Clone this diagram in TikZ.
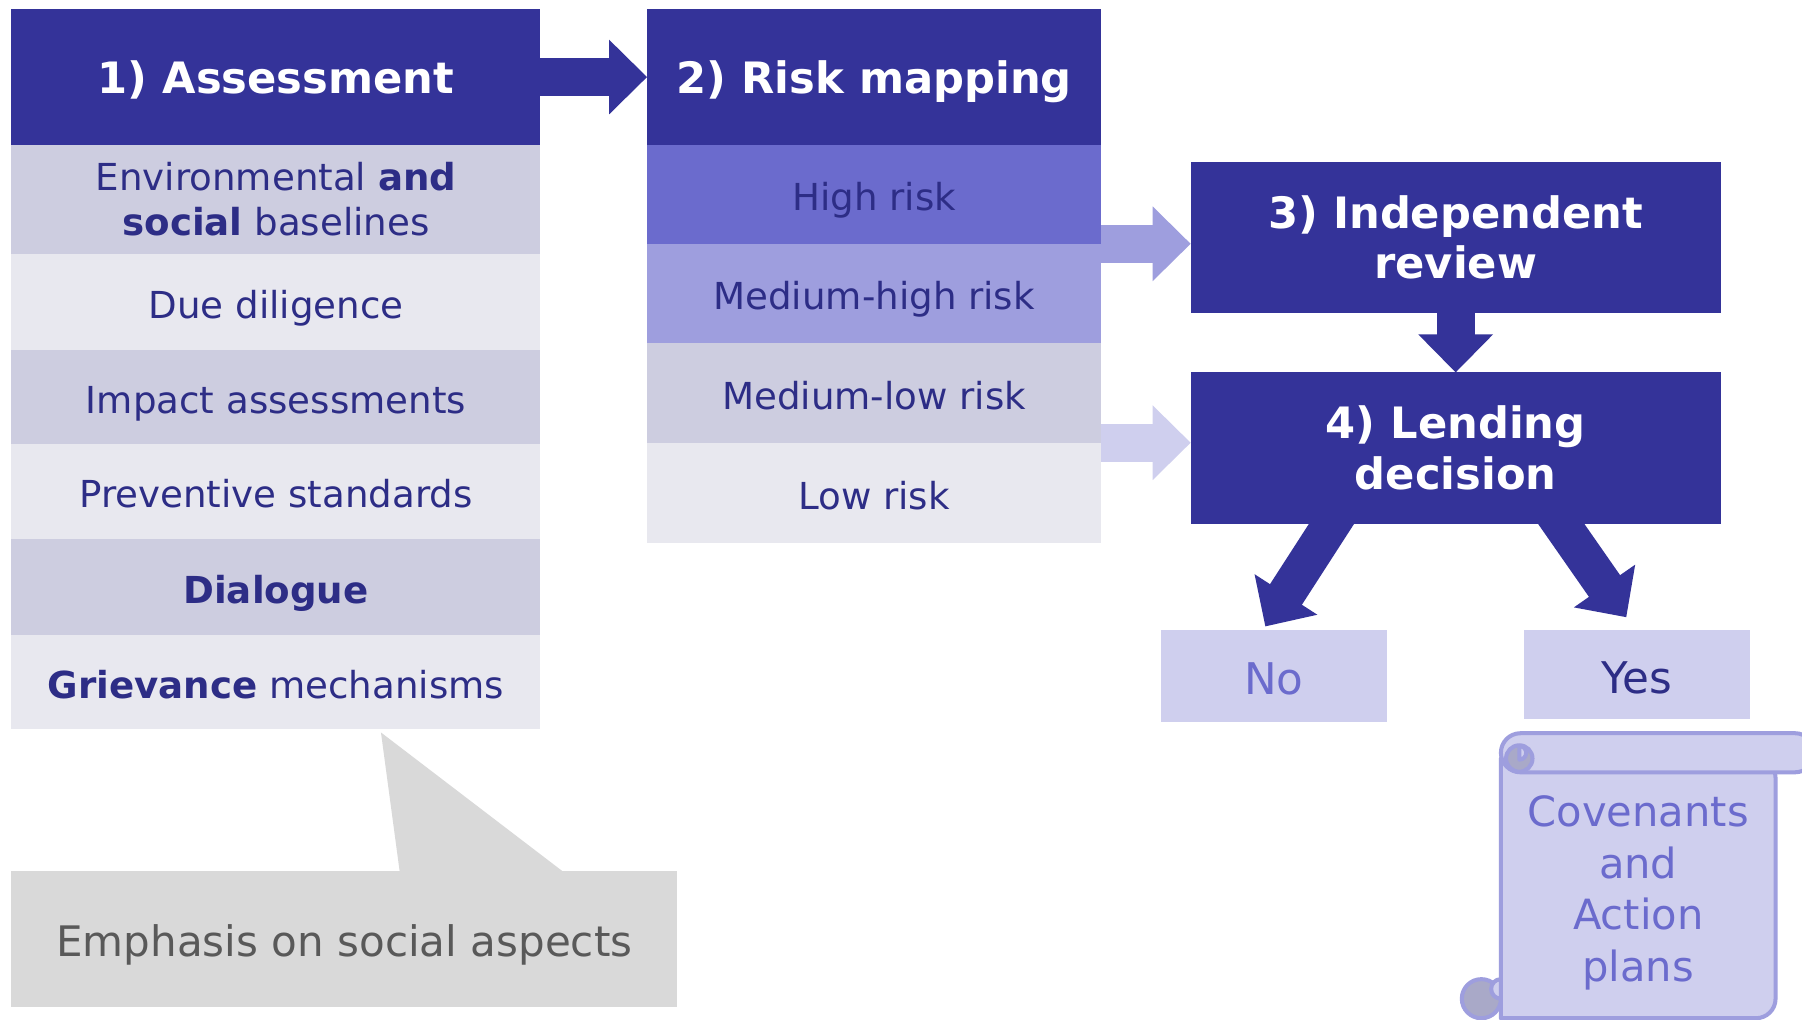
\documentclass[tikz,border=0pt]{standalone}
\usepackage{fontspec}
\setmainfont{DejaVu Sans}
\usetikzlibrary{calc}

\definecolor{deep}{HTML}{343399}
\definecolor{ink}{HTML}{2D2D86}
\definecolor{bandA}{HTML}{CDCDE0}
\definecolor{bandB}{HTML}{E8E8EF}
\definecolor{riskhi}{HTML}{6B6BCD}
\definecolor{riskmh}{HTML}{9E9EDE}
\definecolor{pale}{HTML}{CFCFEE}
\definecolor{curl}{HTML}{A9A9C8}
\definecolor{notegrey}{HTML}{D9D9D9}
\definecolor{notetext}{HTML}{595959}

% block arrow: shaft 3.3mm wide, head 6.5mm wide and 3.3mm long, tip at #2
\newcommand{\blockarrow}[3]{%
  \draw[#3, line width=3.3mm] (#1) -- ($(#2)!3.2mm!(#1)$);
  \fill[#3] (#2) -- ($(#2)!4.632mm!44.56:(#1)$) -- ($(#2)!4.632mm!-44.56:(#1)$) -- cycle;}

\tikzset{
  cell/.style={rectangle, inner sep=0pt, outer sep=0pt, align=center, text=ink, anchor=north west,
    font=\fontsize{9.2}{11.1}\selectfont},
  head/.style={cell, fill=deep, text=white, font=\fontsize{10.7}{12.6}\selectfont\bfseries},
  oneline/.style={text height=0.35cm, text depth=0.066cm},
  headline/.style={text height=0.39cm, text depth=0.096cm},
  colA/.style={minimum width=4.6cm},
  colB/.style={minimum width=3.95cm},
  answer/.style={rectangle, inner sep=0pt, outer sep=0pt, anchor=north west, fill=pale,
    minimum width=1.97cm, font=\fontsize{10.8}{13}\selectfont,
    text height=0.42cm, text depth=0.093cm},
  scrollpart/.style={draw=riskmh, line width=1pt, fill=pale, line join=round},
}

\begin{document}
\begin{tikzpicture}[x=0.01cm, y=-0.01cm]
\clip (0,0) rectangle (1568,887);
\fill[white] (0,0) rectangle (1568,887);

% column 1: assessment
\node[head, headline, colA, minimum height=1.18cm] (h1) at (10,8) {1) Assessment};
\node[cell, colA, fill=bandA, minimum height=0.95cm] (c1) at (h1.south west)
  {Environmental \textbf{and}\\\textbf{social} baselines};
\node[cell, oneline, colA, fill=bandB, minimum height=0.83cm] (c2) at (c1.south west) {Due diligence};
\node[cell, oneline, colA, fill=bandA, minimum height=0.82cm] (c3) at (c2.south west) {Impact assessments};
\node[cell, oneline, colA, fill=bandB, minimum height=0.83cm] (c4) at (c3.south west) {Preventive standards};
\node[cell, oneline, colA, fill=bandA, minimum height=0.83cm] (c5) at (c4.south west) {\textbf{Dialogue}};
\node[cell, oneline, colA, fill=bandB, minimum height=0.82cm] (c6) at (c5.south west) {\textbf{Grievance} mechanisms};

% column 2: risk mapping
\node[head, headline, colB, minimum height=1.18cm] (h2) at (563,8) {2) Risk mapping};
\node[cell, oneline, colB, fill=riskhi, minimum height=0.86cm] (hr) at (h2.south west) {High risk};
\node[cell, oneline, colB, fill=riskmh, minimum height=0.86cm] (mh) at (hr.south west) {Medium-high risk};
\node[cell, oneline, colB, fill=bandA, minimum height=0.87cm] (ml) at (mh.south west) {Medium-low risk};
\node[cell, oneline, colB, fill=bandB, minimum height=0.87cm] (lr) at (ml.south west) {Low risk};

% review and decision
\node[head, minimum width=4.61cm, minimum height=1.31cm] (rev) at (1036,141) {3) Independent\\review};
\node[head, minimum width=4.61cm, minimum height=1.32cm] (dec) at (1036,324) {4) Lending\\decision};

% outcomes
\node[answer, minimum height=0.80cm, text=riskhi] (no) at (1010,548) {No};
\node[answer, minimum height=0.78cm, text=ink] (yes) at (1326,548) {Yes};

% arrows
\coordinate (revin) at (rev.west |- hr.south east);
\coordinate (decin) at (dec.west |- ml.south east);
\coordinate (noA) at ($(dec.south west)+(136,-21)$);
\coordinate (noB) at ($(no.north)+(-7.5,-3)$);
\coordinate (yesA) at ($(dec.south west)+(308,-21)$);
\coordinate (yesB) at ($(yes.north)+(-9.5,-11)$);
\blockarrow{h1.east}{h2.west}{deep}
\blockarrow{hr.south east}{revin}{riskmh}
\blockarrow{ml.south east}{decin}{pale}
\blockarrow{rev.south}{dec.north}{deep}
\blockarrow{noA}{noB}{deep}
\blockarrow{yesA}{yesB}{deep}

% callout
\node[rectangle, inner sep=0pt, outer sep=0pt, anchor=north west, fill=notegrey, text=notetext,
  minimum width=5.79cm, minimum height=1.18cm, font=\fontsize{10.4}{12.5}\selectfont,
  text height=0.4cm, text depth=0.092cm]
  (note) at (10,758) {Emphasis on social aspects};
\coordinate (notetip) at ($(c6.south west)+(321.5,3)$);
\fill[notegrey] ($(note.north west)+(338,2)$) -- (notetip) -- ($(note.north west)+(482,2)$) -- cycle;

% scroll
\filldraw[scrollpart] (1306,660) -- (1306,886) [rounded corners=0.17cm] -- (1545,886) -- (1545,660) [sharp corners] -- cycle;
\filldraw[scrollpart, fill=curl] (1289,869) circle[radius=0.17cm];
\filldraw[scrollpart] (1306,852) arc[start angle=90, end angle=270, radius=0.085cm] -- cycle;
\filldraw[scrollpart, rounded corners=0.17cm] (1306,638) rectangle (1579,672);
\filldraw[scrollpart, fill=curl] (1322,660) circle[radius=0.115cm];
\filldraw[scrollpart] (1322,649) arc[start angle=90, end angle=-90, radius=0.06cm] -- cycle;
\node[align=center, text=riskhi, font=\fontsize{10.3}{12.8}\selectfont] (cov) at (1425.5,777)
  {Covenants\\and\\Action\\plans};
\end{tikzpicture}
\end{document}
